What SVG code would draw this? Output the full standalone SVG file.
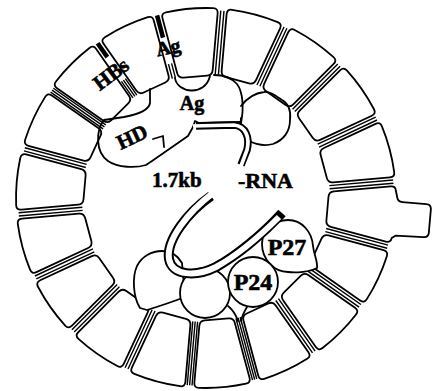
<svg xmlns="http://www.w3.org/2000/svg" width="432" height="391" viewBox="0 0 432 391">
<style>
  .seg{fill:#fff;stroke:#000;stroke-width:1.8;stroke-linejoin:round}
  .gap{fill:none;stroke:#000;stroke-width:1.4}
  .bold{fill:none;stroke:#000;stroke-width:4.5}
  .prot{fill:#fff;stroke:#000;stroke-width:1.8;stroke-linejoin:round}
  .edge{fill:none;stroke:#000;stroke-width:1.8;stroke-linejoin:round;stroke-linecap:round}
  .rna-o{fill:none;stroke:#000;stroke-width:10}
  .rna-i{fill:none;stroke:#fff;stroke-width:6}
  .hook-o{fill:none;stroke:#000;stroke-width:7.5}
  .hook-i{fill:none;stroke:#fff;stroke-width:3.7}
  text{font-family:"Liberation Serif","Times New Roman",serif;font-weight:bold;fill:#000;stroke:#000;stroke-width:0.6}
</style>
<defs>
  <!-- one lipid-envelope block, drawn pointing up from the ring centre -->
  <path id="seg" d="M -11.9,-121.9 L 11.9,-121.9 Q 16.93,-121.9 17.8,-126.8 L 27.7,-183 Q 28.56,-187.9 23.7,-188.5 A 190 190 0 0 0 -23.7,-188.5 Q -28.56,-187.9 -27.7,-183 L -17.8,-126.8 Q -16.93,-121.9 -11.9,-121.9 Z"/>
  <!-- block carrying the outer knob -->
  <path id="seg-knob" d="M -11.9,-121.9 L 11.9,-121.9 Q 16.93,-121.9 17.8,-126.8 L 27.7,-183 Q 28.56,-187.9 23.7,-188.5 L 21,-192 L 20,-220 Q 20,-225 15,-225 L -8,-225 Q -13,-225 -13,-220 L -13,-196 Q -13,-191.5 -17,-190.5 A 190 190 0 0 0 -23.7,-188.5 Q -28.56,-187.9 -27.7,-183 L -17.8,-126.8 Q -16.93,-121.9 -11.9,-121.9 Z"/>
  <!-- double membrane line between two blocks -->
  <path id="gap" d="M -1.6,-124 V -188 M 1.6,-124 V -188"/>
</defs>

<rect width="432" height="391" fill="#fff"/>

<!-- envelope ring: 18 blocks, 20 degrees apart -->
<g id="envelope" transform="translate(206,198)">
  <g id="seg-a"><use href="#seg" class="seg" transform="rotate(-5)"/></g>
  <g id="seg-b"><use href="#seg" class="seg" transform="rotate(15)"/></g>
  <g id="seg-c"><use href="#seg" class="seg" transform="rotate(35)"/></g>
  <g id="seg-d"><use href="#seg" class="seg" transform="rotate(55)"/></g>
  <g id="seg-e"><use href="#seg" class="seg" transform="rotate(75)"/></g>
  <g id="seg-f"><use href="#seg-knob" class="seg" transform="rotate(95)"/></g>
  <g id="seg-g"><use href="#seg" class="seg" transform="rotate(115)"/></g>
  <g id="seg-h"><use href="#seg" class="seg" transform="rotate(135)"/></g>
  <g id="seg-i"><use href="#seg" class="seg" transform="rotate(155)"/></g>
  <g id="seg-j"><use href="#seg" class="seg" transform="rotate(175)"/></g>
  <g id="seg-k"><use href="#seg" class="seg" transform="rotate(195)"/></g>
  <g id="seg-l"><use href="#seg" class="seg" transform="rotate(215)"/></g>
  <g id="seg-m"><use href="#seg" class="seg" transform="rotate(235)"/></g>
  <g id="seg-n"><use href="#seg" class="seg" transform="rotate(255)"/></g>
  <g id="seg-o"><use href="#seg" class="seg" transform="rotate(275)"/></g>
  <g id="seg-p"><use href="#seg" class="seg" transform="rotate(295)"/></g>
  <g id="seg-q"><use href="#seg" class="seg" transform="rotate(315)"/></g>
  <g id="seg-r"><use href="#seg" class="seg" transform="rotate(335)"/></g>

  <!-- membrane lines in the joints -->
  <g id="joints">
    <use href="#gap" class="gap" transform="rotate(5)"/>
    <use href="#gap" class="gap" transform="rotate(25)"/>
    <use href="#gap" class="gap" transform="rotate(45)"/>
    <use href="#gap" class="gap" transform="rotate(65)"/>
    <use href="#gap" class="gap" transform="rotate(85)"/>
    <use href="#gap" class="gap" transform="rotate(105)"/>
    <use href="#gap" class="gap" transform="rotate(125)"/>
    <use href="#gap" class="gap" transform="rotate(145)"/>
    <path class="gap" stroke-width="1.7" transform="rotate(165)" d="M -2.2,-124 V -188 M 0,-124 V -188 M 2.2,-124 V -188"/>
    <path class="gap" transform="rotate(185)" d="M -2.4,-124 V -188 M 0,-124 V -188 M 2.4,-124 V -188"/>
    <use href="#gap" class="gap" transform="rotate(205)"/>
    <use href="#gap" class="gap" transform="rotate(225)"/>
    <use href="#gap" class="gap" transform="rotate(245)"/>
    <use href="#gap" class="gap" transform="rotate(265)"/>
    <use href="#gap" class="gap" transform="rotate(285)"/>
    <path class="gap" transform="rotate(305)" d="M -2.4,-124 V -188 M 0,-124 V -188 M 2.4,-124 V -188"/>
    <!-- joints interrupted by the HBs / Ag labels -->
    <g transform="rotate(325)">
      <path class="bold" d="M 0,-172 V -189"/>
      <path class="gap" d="M -2.4,-124 V -144 M 0,-124 V -144 M 2.4,-124 V -144"/>
    </g>
    <g transform="rotate(345)">
      <path class="bold" d="M 0,-166 V -189"/>
      <path class="gap" d="M -1.6,-124 V -139 M 1.6,-124 V -139"/>
    </g>
  </g>
</g>

<!-- delta antigen complex under the envelope -->
<g id="hd-complex">
  <path class="edge" d="M 150,89 L 150,103 C 149,110 140,114 124,117 L 104,120 C 96,130 95,152 108,161 C 118,168 136,168 146,165 L 152,161 L 188,136 L 193,127 L 195,121 L 199,123 L 240,122"/>
  <path class="edge" d="M 241,123 C 244,108 243,92 237,84 C 231,77 222,75 214,75"/>
  <path class="edge" d="M 153,139 L 163,136 L 164,147"/>
  <path class="edge" d="M 175,78 C 177,93 205,97 210,76"/>
</g>
<g id="right-lobe">
  <path class="edge" d="M 241,106 C 247,98 256,93 264,92 C 270,91 276,96 282,100 C 289,104 291,112 290,120 C 290,131 284,140 273,144 C 262,147 250,143 245,137 C 241,131 240,124 241,118"/>
</g>

<!-- lower globular proteins -->
<g id="left-blob">
  <path class="prot" d="M 140,308 C 133,297 132,277 137,266 C 142,256 152,251 162,251 C 171,251 178,256 182,263 L 185,297 C 172,302 160,306 147,310 Z"/>
</g>
<g id="bottom-ball">
  <circle class="prot" cx="205" cy="293" r="25"/>
</g>
<g id="p27">
  <path class="prot" d="M 262,244 C 262,230 274,220 288,220 C 302,220 312,232 313,246 C 314,255 318,262 317,268 C 310,272 296,273 288,272 C 274,272 262,259 262,244 Z"/>
  <text x="287" y="255" text-anchor="middle" font-size="24">P27</text>
</g>
<g id="p24">
  <circle class="prot" cx="253" cy="282" r="25"/>
  <text x="253" y="290" text-anchor="middle" font-size="24">P24</text>
  <path class="edge" d="M 228,306 C 233,310 236,315 238,321 M 247,307 C 244,312 242,316 241,321"/>
</g>

<!-- genome RNA, drawn as a double strand -->
<g id="rna">
  <path class="hook-o" d="M 196,126 L 234,125 C 246,126 250,138 247,150 L 241,165"/>
  <path class="hook-i" d="M 193,126 L 234,125 C 246,126 250,138 247,150 L 241,166"/>
  <path class="rna-o" d="M 211,196 C 188,212 166,240 169,259 C 172,276 196,277 216,267 C 236,256 262,235 282,213"/>
  <path class="rna-i" d="M 213,193 C 188,212 166,240 169,259 C 172,276 196,277 216,267 C 236,256 260,236 279,217"/>
</g>

<!-- labels -->
<g id="labels">
  <text transform="translate(111,74) rotate(-37)" text-anchor="middle" y="7" font-size="21">HBs</text>
  <text transform="translate(168,47) rotate(-12)" text-anchor="middle" y="7" font-size="20">Ag</text>
  <text x="192" y="110" text-anchor="middle" font-size="20">Ag</text>
  <text transform="translate(132,137) rotate(-25)" text-anchor="middle" y="7" font-size="21">HD</text>
  <text x="152" y="187" font-size="21">1.7kb</text>
  <text x="238" y="188" font-size="22">-RNA</text>
</g>
</svg>
